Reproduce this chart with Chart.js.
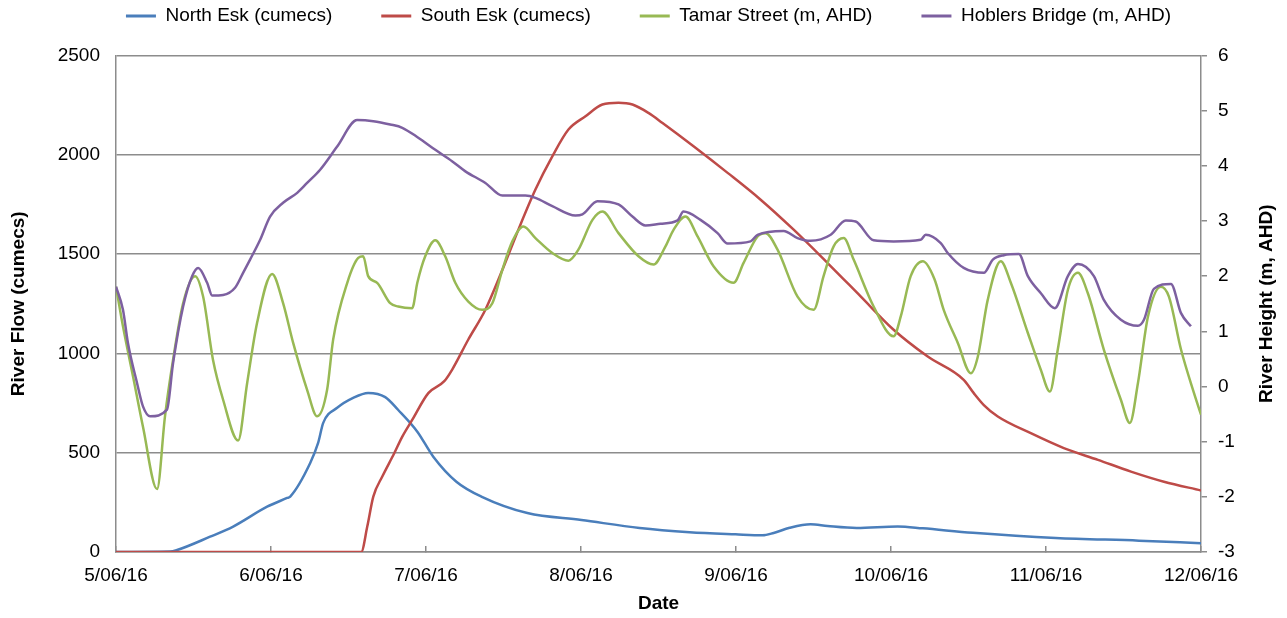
<!DOCTYPE html>
<html>
<head>
<meta charset="utf-8">
<script src="https://cdn.jsdelivr.net/npm/chart.js@4.4.1/dist/chart.umd.min.js"></script>
<style>
  html, body { margin: 0; padding: 0; background: #ffffff; }
  #wrap { width: 1287px; height: 618px; position: relative; }
</style>
</head>
<body>
<div id="wrap"><canvas id="c"></canvas></div>
<script>
// ---- Tick labels ----
const dateLabels = ['5/06/16', '6/06/16', '7/06/16', '8/06/16', '9/06/16', '10/06/16', '11/06/16', '12/06/16'];
const seriesNames = ['North Esk (cumecs)', 'South Esk (cumecs)', 'Tamar Street (m, AHD)', 'Hoblers Bridge (m, AHD)'];
const rightAxisTitle = 'River Height (m, AHD)';

// ---- North Esk flow (days after 5/06/16, cumecs) ----
const northEskDays = [0, 0.349, 0.394, 0.607, 0.756, 0.975, 1.104, 1.124, 1.253, 1.304, 1.337, 1.427, 1.530, 1.627, 1.737, 1.821, 1.944, 2.047, 2.196, 2.357, 2.654, 3.003, 3.378, 3.700, 3.997, 4.171, 4.243, 4.346, 4.481, 4.591, 4.778, 5.043, 5.205, 5.528, 6.063, 6.600, 7.0];
const northEskFlow = [0, 2, 10, 77, 128, 228, 272, 279, 448, 549, 650, 726, 776, 801, 780, 715, 606, 480, 354, 279, 196, 161, 121, 100, 89, 84, 96, 122, 140, 131, 121, 128, 119, 97, 71, 57, 44];

// ---- South Esk flow (days, cumecs) ----
const southEskDays = [0, 1.582, 1.621, 1.660, 1.718, 1.795, 1.847, 1.911, 2.015, 2.118, 2.170, 2.273, 2.383, 2.493, 2.596, 2.706, 2.815, 2.919, 3.029, 3.138, 3.242, 3.332, 3.435, 3.526, 3.726, 3.946, 4.159, 4.372, 4.591, 4.804, 5.017, 5.237, 5.469, 5.534, 5.599, 5.689, 5.902, 6.115, 6.335, 6.548, 6.761, 7.0];
const southEskFlow = [0, 0, 128, 279, 380, 497, 581, 665, 800, 860, 920, 1070, 1220, 1421, 1623, 1825, 1992, 2127, 2194, 2253, 2262, 2253, 2211, 2160, 2043, 1909, 1774, 1623, 1455, 1287, 1119, 984, 867, 800, 740, 682, 598, 523, 464, 405, 354, 310];

// ---- Tamar Street height (days, m AHD) ----
const tamarDays = [0, 0.045, 0.110, 0.174, 0.265, 0.316, 0.368, 0.433, 0.510, 0.562, 0.626, 0.691, 0.788, 0.846, 0.910, 1.007, 1.078, 1.143, 1.233, 1.298, 1.362, 1.401, 1.492, 1.563, 1.595, 1.627, 1.685, 1.769, 1.821, 1.911, 1.944, 1.995, 2.060, 2.124, 2.189, 2.273, 2.363, 2.428, 2.493, 2.557, 2.628, 2.706, 2.815, 2.919, 2.983, 3.074, 3.138, 3.242, 3.371, 3.468, 3.545, 3.597, 3.674, 3.752, 3.855, 3.984, 4.049, 4.139, 4.191, 4.268, 4.397, 4.501, 4.565, 4.630, 4.695, 4.759, 4.888, 5.017, 5.063, 5.127, 5.205, 5.280, 5.340, 5.431, 5.515, 5.560, 5.624, 5.708, 5.773, 5.883, 5.967, 6.025, 6.076, 6.141, 6.206, 6.270, 6.373, 6.483, 6.541, 6.593, 6.658, 6.741, 6.793, 6.871, 6.955, 7.0];
const tamarHeight = [1.81, 1.09, 0.18, -0.73, -1.86, -0.54, 0.48, 1.51, 2.0, 1.63, 0.48, -0.24, -0.98, 0.06, 1.15, 2.04, 1.51, 0.79, -0.06, -0.54, -0.06, 0.85, 1.88, 2.33, 2.36, 2.0, 1.88, 1.51, 1.45, 1.42, 1.88, 2.36, 2.65, 2.36, 1.88, 1.54, 1.39, 1.51, 2.12, 2.63, 2.90, 2.69, 2.42, 2.28, 2.48, 3.02, 3.17, 2.78, 2.36, 2.21, 2.54, 2.84, 3.08, 2.72, 2.18, 1.88, 2.24, 2.72, 2.78, 2.48, 1.63, 1.39, 2.0, 2.54, 2.69, 2.30, 1.45, 0.91, 1.27, 2.0, 2.27, 1.95, 1.39, 0.79, 0.24, 0.54, 1.57, 2.27, 1.88, 0.97, 0.30, -0.09, 0.67, 1.75, 2.06, 1.69, 0.67, -0.24, -0.66, 0.06, 1.27, 1.81, 1.63, 0.67, -0.12, -0.51];

// ---- Hoblers Bridge height (days, m AHD) ----
const hoblersDays = [0, 0.045, 0.077, 0.136, 0.174, 0.220, 0.329, 0.368, 0.433, 0.491, 0.530, 0.588, 0.620, 0.691, 0.768, 0.820, 0.865, 0.930, 0.994, 1.078, 1.169, 1.233, 1.317, 1.427, 1.556, 1.660, 1.769, 1.847, 1.950, 2.060, 2.170, 2.254, 2.383, 2.493, 2.641, 2.706, 2.815, 2.964, 3.009, 3.106, 3.242, 3.332, 3.416, 3.513, 3.623, 3.661, 3.771, 3.881, 3.946, 4.094, 4.139, 4.307, 4.397, 4.481, 4.611, 4.708, 4.772, 4.888, 5.017, 5.192, 5.224, 5.321, 5.366, 5.469, 5.599, 5.657, 5.728, 5.825, 5.883, 5.967, 6.057, 6.141, 6.206, 6.309, 6.373, 6.483, 6.593, 6.632, 6.696, 6.806, 6.871, 6.935];
const hoblersHeight = [1.81, 1.39, 0.79, 0.06, -0.36, -0.54, -0.42, 0.42, 1.45, 2.0, 2.15, 1.88, 1.65, 1.66, 1.79, 2.06, 2.30, 2.66, 3.08, 3.33, 3.51, 3.69, 3.93, 4.35, 4.83, 4.81, 4.75, 4.69, 4.51, 4.29, 4.08, 3.90, 3.69, 3.46, 3.46, 3.42, 3.27, 3.10, 3.12, 3.36, 3.30, 3.08, 2.92, 2.95, 3.01, 3.17, 3.02, 2.78, 2.59, 2.63, 2.75, 2.82, 2.69, 2.64, 2.75, 3.01, 2.99, 2.65, 2.63, 2.66, 2.75, 2.60, 2.42, 2.15, 2.06, 2.30, 2.38, 2.40, 2.0, 1.69, 1.42, 2.0, 2.22, 2.0, 1.57, 1.21, 1.10, 1.21, 1.77, 1.86, 1.33, 1.09];

// ---- Axis ranges ----
const flowTicks = [0, 500, 1000, 1500, 2000, 2500];
const heightTicks = [-3, -2, -1, 0, 1, 2, 3, 4, 5, 6];

const colors = ['#4a7ebb', '#be4b48', '#98b954', '#7d60a0'];

function pts(xs, ys) { return xs.map((x, i) => ({ x: x, y: ys[i] })); }

const FONT = "'Liberation Sans', Arial, sans-serif";
Chart.defaults.font.family = FONT;
Chart.defaults.color = '#000000';
const gridGray = '#8c8c8c';

function makeDataset(i, data, axis, order) {
  return {
    label: seriesNames[i], data: data, yAxisID: axis, order: order,
    borderColor: colors[i], backgroundColor: colors[i], borderWidth: 2.5,
    pointRadius: 0, pointHoverRadius: 0, fill: false,
    cubicInterpolationMode: 'monotone'
  };
}

// Right-axis title reading bottom-to-top (as in the reference)
const rightTitlePlugin = {
  id: 'rightTitle',
  afterDraw(chart) {
    const s = chart.scales.y1;
    const ctx = chart.ctx;
    ctx.save();
    ctx.translate(s.right - 25, (s.top + s.bottom) / 2);
    ctx.rotate(-Math.PI / 2);
    ctx.font = 'bold 19px ' + FONT;
    ctx.fillStyle = '#000000';
    ctx.textAlign = 'center';
    ctx.textBaseline = 'middle';
    ctx.fillText(rightAxisTitle, 0, 0);
    ctx.restore();
  }
};

new Chart(document.getElementById('c'), {
  type: 'line',
  data: {
    datasets: [
      makeDataset(0, pts(northEskDays, northEskFlow), 'y', 4),
      makeDataset(1, pts(southEskDays, southEskFlow), 'y', 3),
      makeDataset(2, pts(tamarDays, tamarHeight), 'y1', 2),
      makeDataset(3, pts(hoblersDays, hoblersHeight), 'y1', 1)
    ]
  },
  plugins: [rightTitlePlugin],
  options: {
    responsive: true, maintainAspectRatio: false, animation: false,
    layout: { padding: { top: -42.5, left: 5, right: -5, bottom: 0 } },
    plugins: {
      tooltip: { enabled: false },
      title: { display: true, text: '', weight: 500, font: { size: 10, lineHeight: 1 }, padding: { top: 10, bottom: 0 } },
      legend: {
        position: 'top',
        labels: {
          boxWidth: 30, boxHeight: 3, padding: 49,
          font: { size: 19 }, color: '#000',
          sort: (a, b) => a.datasetIndex - b.datasetIndex,
          generateLabels: (chart) => {
            const items = Chart.defaults.plugins.legend.labels.generateLabels(chart);
            items.forEach(it => { it.lineWidth = 0; it.fillStyle = it.strokeStyle; });
            return items;
          }
        }
      }
    },
    scales: {
      x: {
        type: 'linear', min: 0, max: 7,
        afterFit: (s) => { s.height = 66; },
        ticks: { stepSize: 1, autoSkip: false, maxRotation: 0, padding: 18.6, font: { size: 19 },
          callback: (v) => Number.isInteger(v) ? dateLabels[v] : '' },
        grid: { display: true, drawOnChartArea: false, drawTicks: true, tickLength: -6, color: gridGray, lineWidth: 1.5 },
        border: { display: true, color: gridGray, width: 1.5 },
        title: { display: true, text: 'Date', font: { size: 19, weight: 'bold' }, padding: { top: 4, bottom: 2.6 } }
      },
      y: {
        position: 'left', min: flowTicks[0], max: flowTicks[flowTicks.length - 1],
        afterBuildTicks: (s) => { s.ticks = flowTicks.map(v => ({ value: v })); },
        afterFit: (s) => { s.width = 111; },
        ticks: { padding: 16, font: { size: 19 }, callback: (v) => String(v) },
        grid: { color: gridGray, lineWidth: 1.5, drawTicks: false },
        border: { display: true, color: gridGray, width: 1.5 },
        title: { display: true, text: 'River Flow (cumecs)', font: { size: 19, weight: 'bold' }, padding: { top: 2, bottom: 10 } }
      },
      y1: {
        position: 'right', min: heightTicks[0], max: heightTicks[heightTicks.length - 1],
        afterBuildTicks: (s) => { s.ticks = heightTicks.map(v => ({ value: v })); },
        afterFit: (s) => { s.width = 91; },
        ticks: { padding: 11, font: { size: 19 }, callback: (v) => String(v) },
        grid: { drawOnChartArea: false, drawTicks: true, tickLength: 6, color: gridGray, lineWidth: 1.5 },
        border: { display: true, color: gridGray, width: 1.5 },
        title: { display: false }
      }
    }
  }
});
</script>
</body>
</html>
